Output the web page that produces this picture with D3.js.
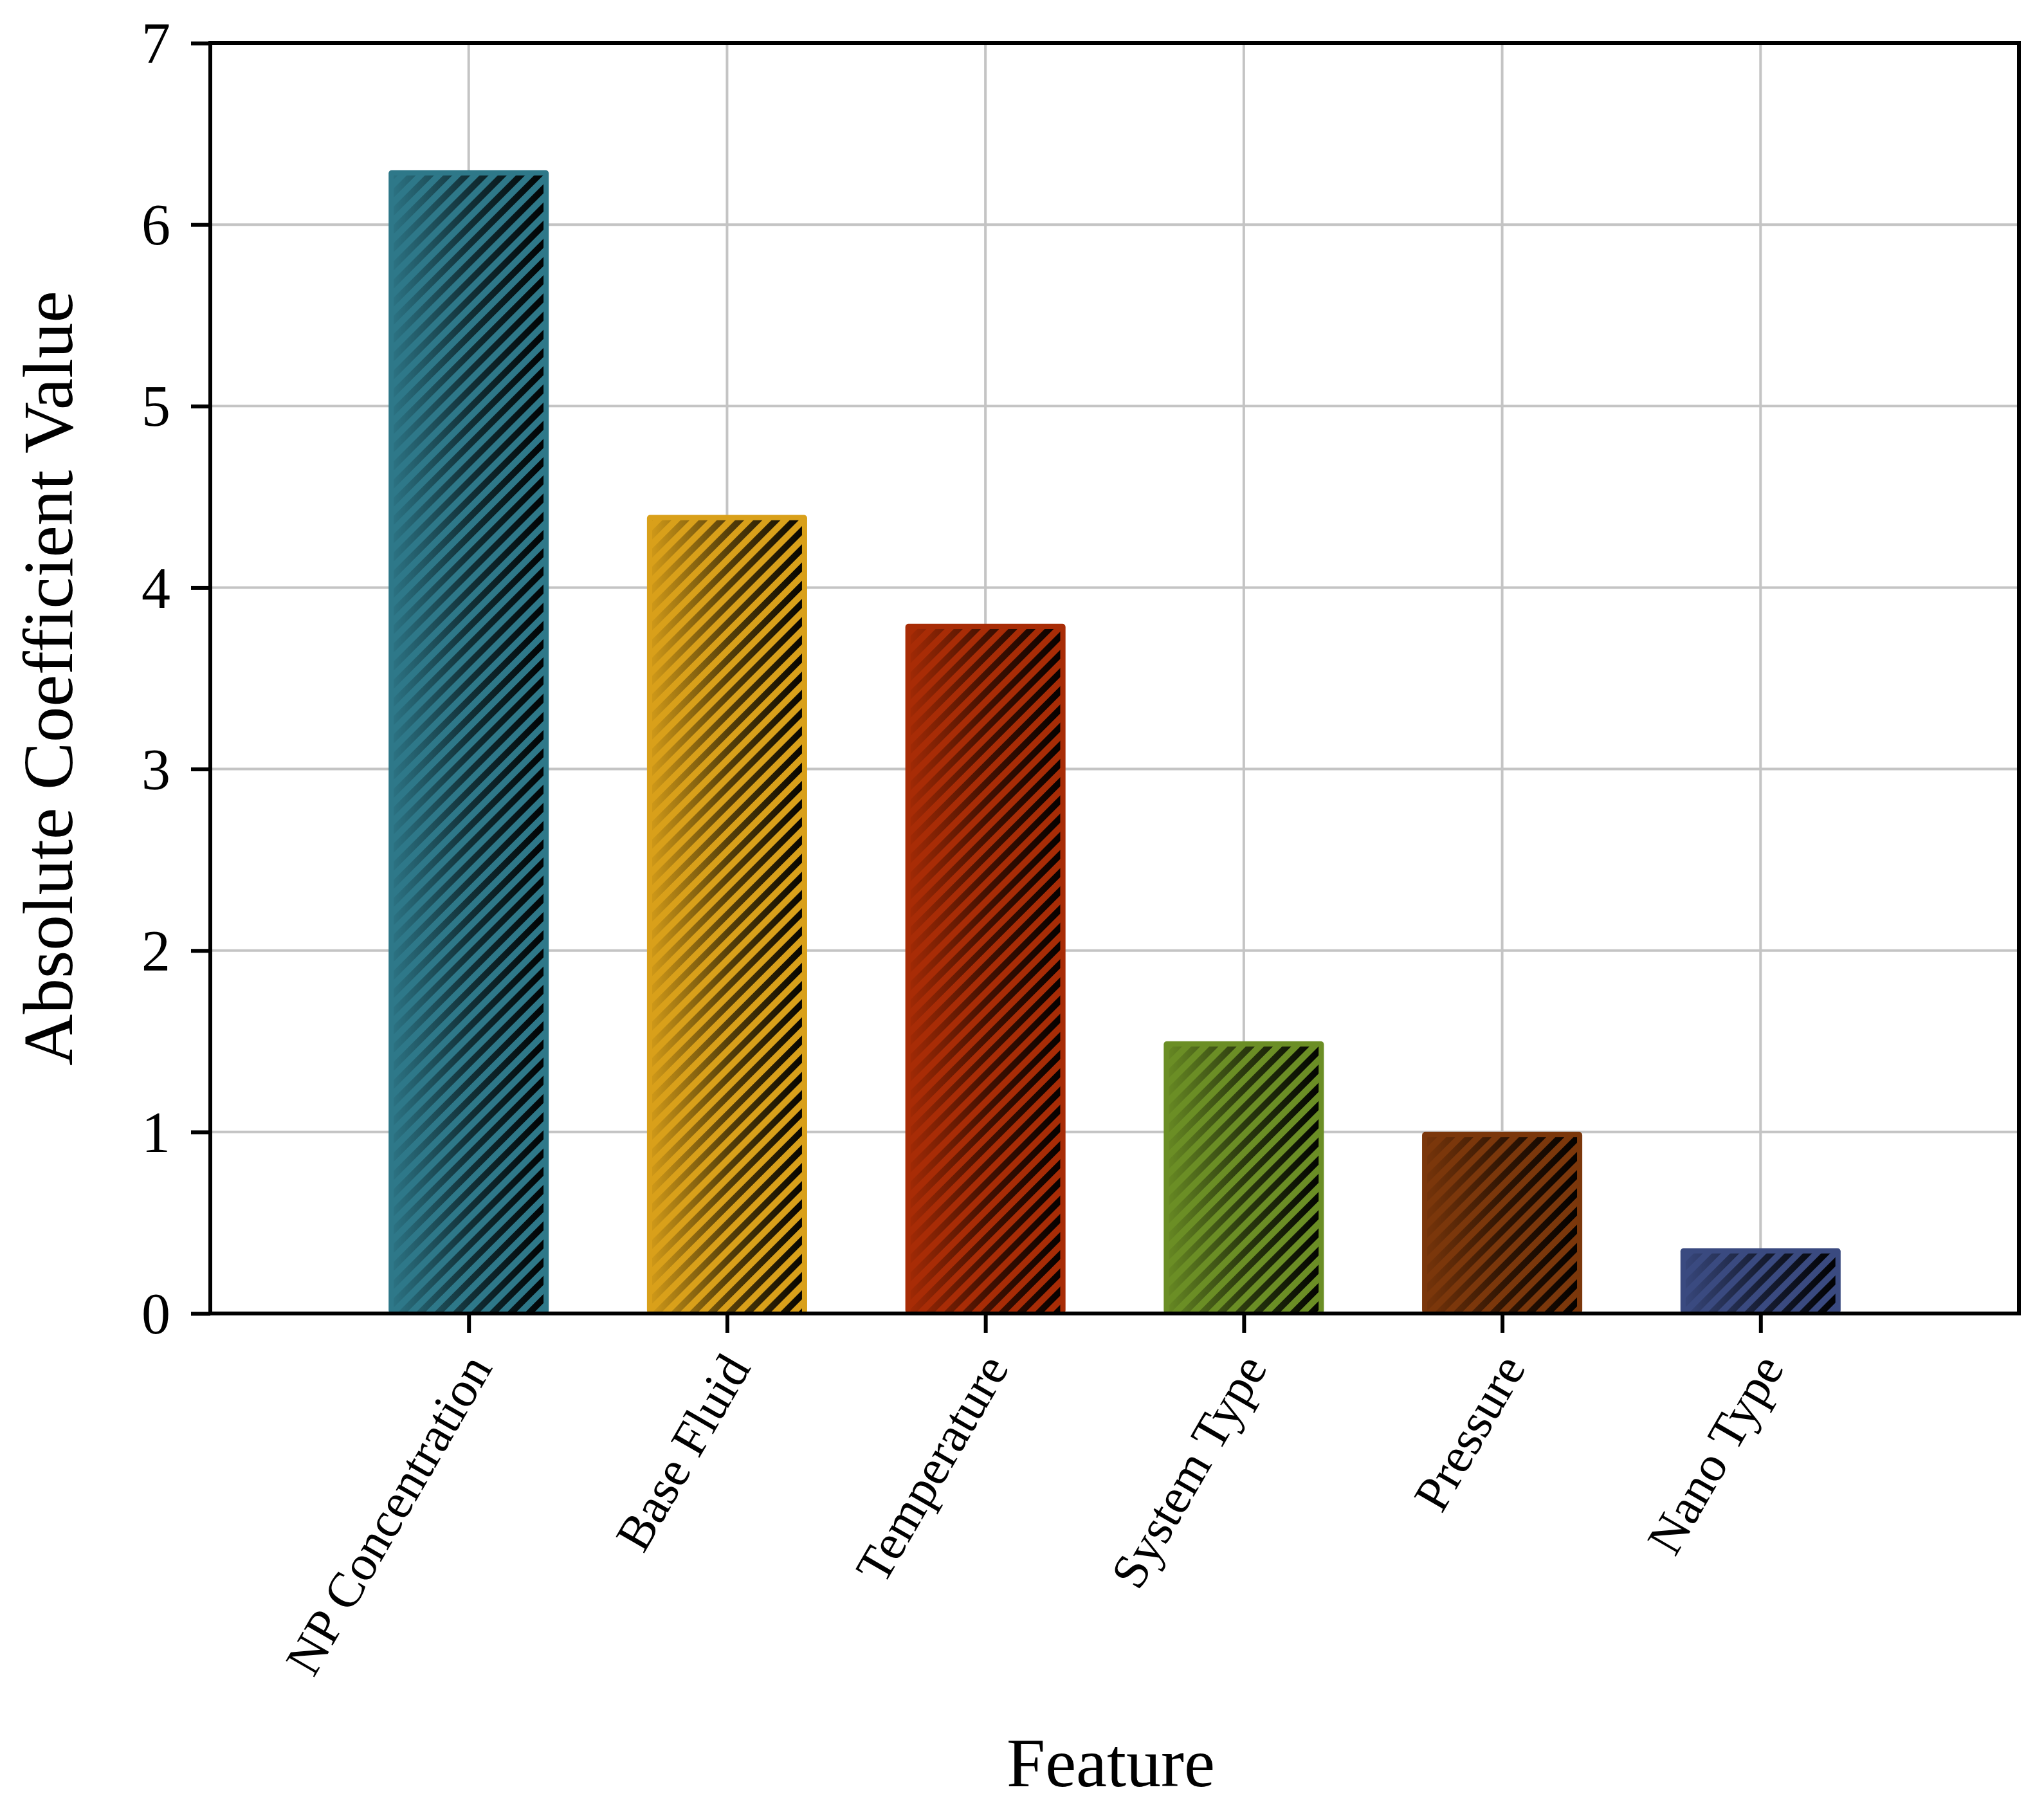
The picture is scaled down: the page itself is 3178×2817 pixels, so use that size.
<!DOCTYPE html>
<html>
<head>
<meta charset="utf-8">
<script src="https://cdn.jsdelivr.net/npm/d3@7"></script>
<style>
  html, body { margin: 0; padding: 0; background: #ffffff; }
  svg { display: block; }
</style>
</head>
<body>
<svg id="chart" width="3178" height="2817"></svg>
<script>
// ---- data ----
const categories = ["NP Concentration", "Base Fluid", "Temperature", "System Type", "Pressure", "Nano Type"];
const values = [6.3, 4.4, 3.8, 1.5, 1.0, 0.36];
const barColors = ["#2e7889", "#d9a01a", "#a82c06", "#6b8e25", "#7b370b", "#3a4a80"];
const yTicks = [0, 1, 2, 3, 4, 5, 6, 7];
const xTitle = "Feature";
const yTitle = "Absolute Coefficient Value";

// ---- layout ----
const W = 3178, H = 2817;
const L = 327, R = 3139, T = 67, B = 2042;
const font = "'Liberation Serif', 'Times New Roman', serif";

const svg = d3.select("#chart");
svg.append("rect").attr("width", W).attr("height", H).attr("fill", "#fff");

const x = d3.scalePoint().domain(categories).range([L, R]).padding(1);
const y = d3.scaleLinear().domain([0, 7]).range([B, T]);
const bw = x.step() * 0.62;

const defs = svg.append("defs");
const pat = defs.append("pattern")
  .attr("id", "hatch").attr("patternUnits", "userSpaceOnUse")
  .attr("width", 20).attr("height", 20)
  .attr("patternTransform", "rotate(45)");
pat.append("rect").attr("x", 0).attr("y", 0).attr("width", 10).attr("height", 20).attr("fill", "#000");

const grad = defs.append("linearGradient").attr("id", "fade")
  .attr("x1", 0).attr("x2", 1).attr("y1", 0).attr("y2", 0);
grad.append("stop").attr("offset", 0).attr("stop-color", "#fff").attr("stop-opacity", 0.05);
grad.append("stop").attr("offset", 0.5).attr("stop-color", "#fff").attr("stop-opacity", 0.6);
grad.append("stop").attr("offset", 1).attr("stop-color", "#fff").attr("stop-opacity", 0.97);

// ---- grid ----
const grid = svg.append("g");
grid.selectAll("line.h").data(yTicks).join("line")
  .attr("x1", L).attr("x2", R).attr("y1", d => y(d)).attr("y2", d => y(d))
  .attr("stroke", "#c4c4c4").attr("stroke-width", 4);
grid.selectAll("line.v").data(categories).join("line")
  .attr("x1", d => x(d)).attr("x2", d => x(d)).attr("y1", T).attr("y2", B)
  .attr("stroke", "#c4c4c4").attr("stroke-width", 4);

// ---- bars ----
const data = categories.map((c, i) => ({ c, v: values[i], col: barColors[i], i }));
const inset = 8;
data.forEach(d => {
  const m = defs.append("mask").attr("id", "m" + d.i);
  m.append("rect")
    .attr("x", x(d.c) - bw / 2 + inset).attr("y", y(d.v) + inset)
    .attr("width", bw - 2 * inset).attr("height", y(0) - y(d.v) - inset)
    .attr("fill", "url(#fade)");
});
const bars = svg.append("g");
bars.selectAll("rect.base").data(data).join("rect")
  .attr("class", "base")
  .attr("x", d => x(d.c) - bw / 2).attr("y", d => y(d.v))
  .attr("width", bw).attr("height", d => y(0) - y(d.v))
  .attr("rx", 5).attr("fill", d => d.col);
bars.selectAll("rect.hatch").data(data).join("rect")
  .attr("class", "hatch")
  .attr("x", d => x(d.c) - bw / 2 + inset).attr("y", d => y(d.v) + inset)
  .attr("width", bw - 2 * inset).attr("height", d => y(0) - y(d.v) - inset)
  .attr("fill", "url(#hatch)").attr("mask", d => `url(#m${d.i})`);

// ---- axes ----
const yAxis = svg.append("g").attr("transform", `translate(${L},0)`)
  .call(d3.axisLeft(y).tickValues(yTicks).tickSize(30).tickSizeOuter(0).tickPadding(32).tickFormat(d3.format("d")));
yAxis.select(".domain").remove();
yAxis.selectAll(".tick line").attr("stroke", "#000").attr("stroke-width", 6);
yAxis.selectAll(".tick text").attr("font-family", font).attr("font-size", 90).attr("fill", "#000").attr("dy", "0.34em");

const xAxis = svg.append("g").attr("transform", `translate(0,${B})`)
  .call(d3.axisBottom(x).tickSize(30).tickSizeOuter(0).tickFormat(() => ""));
xAxis.select(".domain").remove();
xAxis.selectAll(".tick line").attr("stroke", "#000").attr("stroke-width", 6);

svg.append("g").selectAll("text").data(categories).join("text")
  .attr("transform", d => `translate(${x(d) + 38},${B + 84}) rotate(-60)`)
  .attr("text-anchor", "end")
  .attr("font-family", font).attr("font-size", 78).attr("fill", "#000")
  .text(d => d);

// frame
svg.append("rect").attr("x", L).attr("y", T).attr("width", R - L).attr("height", B - T)
  .attr("fill", "none").attr("stroke", "#000").attr("stroke-width", 6);

// titles
svg.append("text").attr("x", (L + R) / 2 - 6).attr("y", 2777)
  .attr("text-anchor", "middle").attr("font-family", font).attr("font-size", 108).attr("fill", "#000")
  .text(xTitle);
svg.append("text").attr("transform", `translate(112,${(T + B) / 2}) rotate(-90)`)
  .attr("text-anchor", "middle").attr("font-family", font).attr("font-size", 111).attr("fill", "#000")
  .text(yTitle);
</script>
</body>
</html>
